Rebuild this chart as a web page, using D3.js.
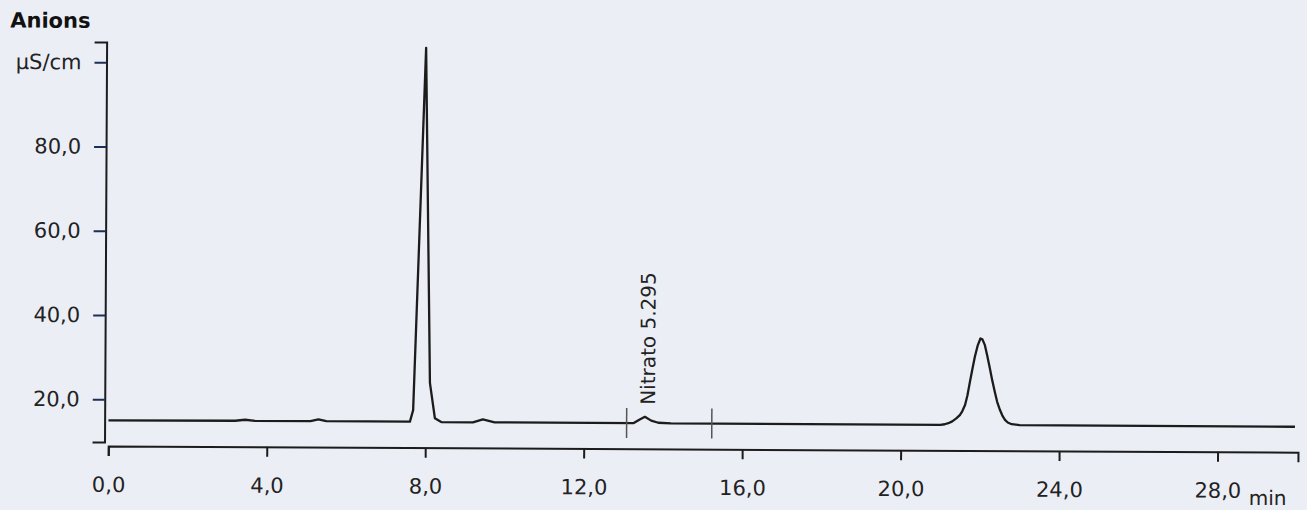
<!DOCTYPE html>
<html>
<head>
<meta charset="utf-8">
<script src="https://cdn.jsdelivr.net/npm/d3@7"></script>
<style>
  html, body { margin: 0; padding: 0; background: #eceef5; }
  svg { display: block; }
</style>
</head>
<body>
<div id="chart"></div>
<script>
// chromatogram - anions

const times  = [0, 3.2, 3.45, 3.7, 5.1, 5.3, 5.5, 7.61, 7.69, 7.97, 8.11, 8.24, 8.4, 9.2, 9.45, 9.75,
                13.26, 13.4, 13.54, 13.7, 13.88, 14.2,
                21.0, 21.11, 21.2, 21.3, 21.4, 21.49, 21.55, 21.62, 21.68, 21.74, 21.8, 21.86, 21.93,
                22.0, 22.05, 22.11, 22.17, 22.24, 22.3, 22.37, 22.43, 22.5, 22.56, 22.63, 22.7, 22.8,
                23.0, 29.95];
const signal = [15.0, 15.05, 15.3, 15.05, 15.05, 15.5, 15.1, 15.05, 17.8, 103.8, 24.3, 15.9, 15.0, 14.95, 15.7, 15.0,
                15.0, 15.8, 16.5, 15.6, 15.1, 14.95,
                14.95, 15.1, 15.35, 15.8, 16.5, 17.3, 18.2, 19.7, 22.0, 25.2, 28.2, 31.1, 33.8,
                35.5, 35.3, 34.0, 31.6, 28.5, 25.7, 22.8, 20.5, 18.6, 17.3, 16.2, 15.6, 15.2,
                15.0, 14.95];

const xTicks = [0, 4, 8, 12, 16, 20, 24, 28];
const yTicks = [20, 40, 60, 80, 100];

const peakName = "Nitrato 5.295";
const peakTime = 13.54;
const peakValue = 16.5;
const integrationMarks = [13.08, 15.23];
const baselineValue = 15.0;

const width = 1307;
const height = 510;
const ink = "#1c1c1c";
const font = "'DejaVu Sans', Verdana, sans-serif";

const svg = d3.select("#chart")
    .append("svg")
    .attr("width", width)
    .attr("height", height);

// the scanned sheet is turned a little
const g = svg.append("g").attr("transform", "rotate(0.3, 108, 446)");

const x = d3.scaleLinear().domain([0, 30.03]).range([108.3, 1298]);
const y = d3.scaleLinear().domain([9.85, 104.8]).range([442, 42]);

const fmt = d3.formatLocale({ decimal: ",", thousands: ".", grouping: [3], currency: ["", ""] }).format(".1f");

// x axis
const xAxis = g.append("g")
    .attr("transform", "translate(0,446)")
    .call(d3.axisBottom(x).tickValues(xTicks).tickSizeOuter(0).tickSize(10).tickPadding(21).tickFormat(fmt));
xAxis.select(".domain").attr("stroke", ink).attr("stroke-width", 2);
xAxis.selectAll(".tick line").attr("stroke", ink).attr("stroke-width", 2);
xAxis.selectAll(".tick text").attr("fill", "#222").style("font-family", font).style("font-size", "21px");

g.append("text")
    .attr("x", 1249)
    .attr("y", 499)
    .attr("fill", "#222")
    .style("font-family", font)
    .style("font-size", "20px")
    .text("min");

// y axis
const yAxis = g.append("g")
    .attr("transform", "translate(104.5,0)")
    .call(d3.axisLeft(y).tickValues(yTicks).tickSizeOuter(0).tickSize(12).tickPadding(13)
        .tickFormat(d => d === 100 ? "µS/cm" : fmt(d)));
yAxis.select(".domain").attr("stroke", ink).attr("stroke-width", 2);
yAxis.selectAll(".tick line").attr("stroke", "#1d2f55").attr("stroke-width", 2);
yAxis.selectAll(".tick text").attr("fill", "#222").style("font-family", font).style("font-size", "21px");

g.append("text")
    .attr("x", 8)
    .attr("y", 28)
    .attr("fill", "#111")
    .style("font-family", font)
    .style("font-size", "21px")
    .style("font-weight", "bold")
    .text("Anions");

// signal trace
const data = times.map((t, i) => [t, signal[i]]);
g.append("path")
    .datum(data)
    .attr("fill", "none")
    .attr("stroke", ink)
    .attr("stroke-width", 2.3)
    .attr("stroke-linejoin", "round")
    .attr("d", d3.line().x(d => x(d[0])).y(d => y(d[1])));

// integration marks
g.selectAll(".mark")
    .data(integrationMarks)
    .enter()
    .append("line")
    .attr("class", "mark")
    .attr("x1", d => x(d))
    .attr("x2", d => x(d))
    .attr("y1", y(baselineValue) - 15)
    .attr("y2", y(baselineValue) + 15)
    .attr("stroke", "#555")
    .attr("stroke-width", 1.5);

// peak label
g.append("text")
    .attr("transform", `translate(${x(peakTime) + 10},${y(peakValue) - 12}) rotate(-90)`)
    .attr("fill", "#222")
    .style("font-family", font)
    .style("font-size", "20px")
    .text(peakName);
</script>
</body>
</html>
